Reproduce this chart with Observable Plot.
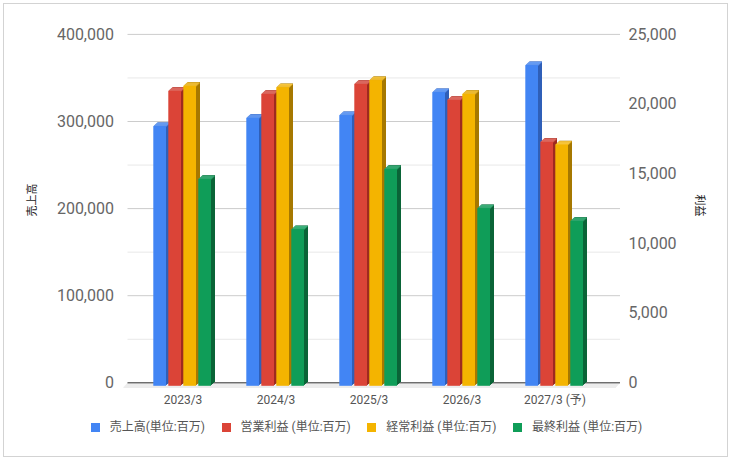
<!DOCTYPE html>
<html>
<head>
<meta charset="utf-8">
<script src="https://cdn.jsdelivr.net/npm/d3@7"></script>
<script src="https://cdn.jsdelivr.net/npm/@observablehq/plot@0.6"></script>
<style>
  html, body { margin: 0; padding: 0; background: #fff; }
  body { width: 733px; height: 461px; position: relative; overflow: hidden;
         font-family: Roboto, "Noto Sans CJK JP", sans-serif; }
  #chart { position: absolute; left: 0; top: 0; }
  #border { position: absolute; left: 3px; top: 3px; width: 725px; height: 454px;
            border: 1px solid #d3d3d3; box-sizing: border-box; pointer-events: none; }
  #legend { position: absolute; left: 0; top: 418px; width: 733px; display: flex;
            justify-content: center; font-size: 12px; color: #555; line-height: 18px; }
  .item { display: flex; align-items: center; margin: 0 8.3px; }
  .sw { width: 9px; height: 9px; margin-right: 10px; }
</style>
</head>
<body>
<div id="chart"></div>
<div id="legend"></div>
<div id="border"></div>
<script>
const years = ["2023/3", "2024/3", "2025/3", "2026/3", "2027/3 (予)"];
const seriesNames = ["売上高(単位:百万)", "営業利益 (単位:百万)", "経常利益 (単位:百万)", "最終利益 (単位:百万)"];
const sales = [298200, 307700, 310800, 337200, 368200];
const operatingProfit = [21170, 20950, 21670, 20520, 17510];
const ordinaryProfit = [21530, 21430, 21940, 20950, 17320];
const netProfit = [14850, 11240, 15570, 12750, 11840];
const leftTicks = [0, 100000, 200000, 300000, 400000];
const rightTicks = [0, 5000, 10000, 15000, 20000, 25000];
const leftTitle = "売上高";
const rightTitle = "利益";

const mainColors = ["#4285f4", "#db4437", "#f4b400", "#0f9d58"];
const sideColors = ["#2f5fb8", "#9e2a1f", "#a67800", "#0a6437"];
const topColors = ["#6aa0f7", "#e5736a", "#f7c53c", "#3cb17b"];

const RATIO = leftTicks[leftTicks.length - 1] / rightTicks[rightTicks.length - 1];
const seriesArrays = [sales, operatingProfit, ordinaryProfit, netProfit];
const rows = years.flatMap((yr, i) => seriesArrays.map((arr, s) => ({
  year: yr, series: s, value: arr[i], y: s === 0 ? arr[i] : arr[i] * RATIO
})));
const minorTicks = leftTicks.slice(1).map((t, i) => (t + leftTicks[i]) / 2);
const fmt = d3.format(",");

const insetLeft = 17.3, barW = 12.7, band = 93;
const insetRight = band - insetLeft - barW;
const depthX = 4, depthY = 3.7, frontDy = 3.5;

const marks = [];
// gridlines
marks.push(Plot.ruleY(minorTicks, {stroke: "#e8e8e8", strokeWidth: 1}));
marks.push(Plot.ruleY(leftTicks.slice(1), {stroke: "#cccccc", strokeWidth: 1}));
// floor
for (const k of [0.5, 1.5, 2.5, 3.5, 4.5]) {
  marks.push(Plot.ruleY([0], {stroke: "#ececec", strokeWidth: 1.2, dx: -k * 0.9, dy: k}));
}
marks.push(Plot.ruleY([0], {stroke: "#333", strokeWidth: 1}));
// bars
for (let s = 0; s < 4; s++) {
  const data = rows.filter(d => d.series === s);
  const dx0 = 15 * s;
  for (const k of [1, 2, 3, 4]) {
    marks.push(Plot.barY(data, {x: "year", y: "y", fill: sideColors[s], insetLeft, insetRight,
      dx: dx0 + k * depthX / 4, dy: frontDy - k * depthY / 4}));
  }
  for (const t of [0.5, 1.5, 2.5, 3.5]) {
    marks.push(Plot.tickY(data, {x: "year", y: "y", stroke: topColors[s], strokeWidth: 1.15,
      insetLeft, insetRight, dx: dx0 + t * depthX / 4, dy: frontDy - t * depthY / 4}));
  }
  marks.push(Plot.barY(data, {x: "year", y: "y", fill: mainColors[s], insetLeft, insetRight,
    dx: dx0, dy: frontDy}));
}
// axes
marks.push(Plot.axisY({anchor: "left", ticks: leftTicks, tickFormat: fmt, tickSize: 0, tickPadding: 14,
  fontSize: 16, fill: "#666", label: null}));
marks.push(Plot.axisY({anchor: "right", ticks: rightTicks.map(v => v * RATIO), tickFormat: d => fmt(d / RATIO),
  tickSize: 0, tickPadding: 8, fontSize: 16, fill: "#666", label: null}));
marks.push(Plot.axisX({anchor: "bottom", tickSize: 0, tickPadding: 13, fontSize: 12, fill: "#555", label: null}));
// axis titles
marks.push(Plot.text([leftTitle], {frameAnchor: "left", dx: -95.5, dy: 8, rotate: -90, fontSize: 11, fill: "#222"}));
marks.push(Plot.text([rightTitle], {frameAnchor: "right", dx: 79, dy: 8, rotate: 90, fontSize: 11, fill: "#222"}));

const chart = Plot.plot({
  width: 733,
  height: 410,
  marginLeft: 127.5,
  marginRight: 113,
  marginTop: 33.9,
  marginBottom: 27.7,
  style: {fontFamily: 'Roboto, "Noto Sans CJK JP", sans-serif', background: "transparent"},
  x: {domain: years, range: [136, 601], padding: 0, round: false, axis: null},
  y: {domain: [0, leftTicks[leftTicks.length - 1]], axis: null},
  marks
});
document.getElementById("chart").appendChild(chart);

const legend = document.getElementById("legend");
seriesNames.forEach((name, s) => {
  const it = document.createElement("div");
  it.className = "item";
  const sw = document.createElement("span");
  sw.className = "sw";
  sw.style.background = mainColors[s];
  const tx = document.createElement("span");
  tx.textContent = name;
  it.appendChild(sw);
  it.appendChild(tx);
  legend.appendChild(it);
});
</script>
</body>
</html>
